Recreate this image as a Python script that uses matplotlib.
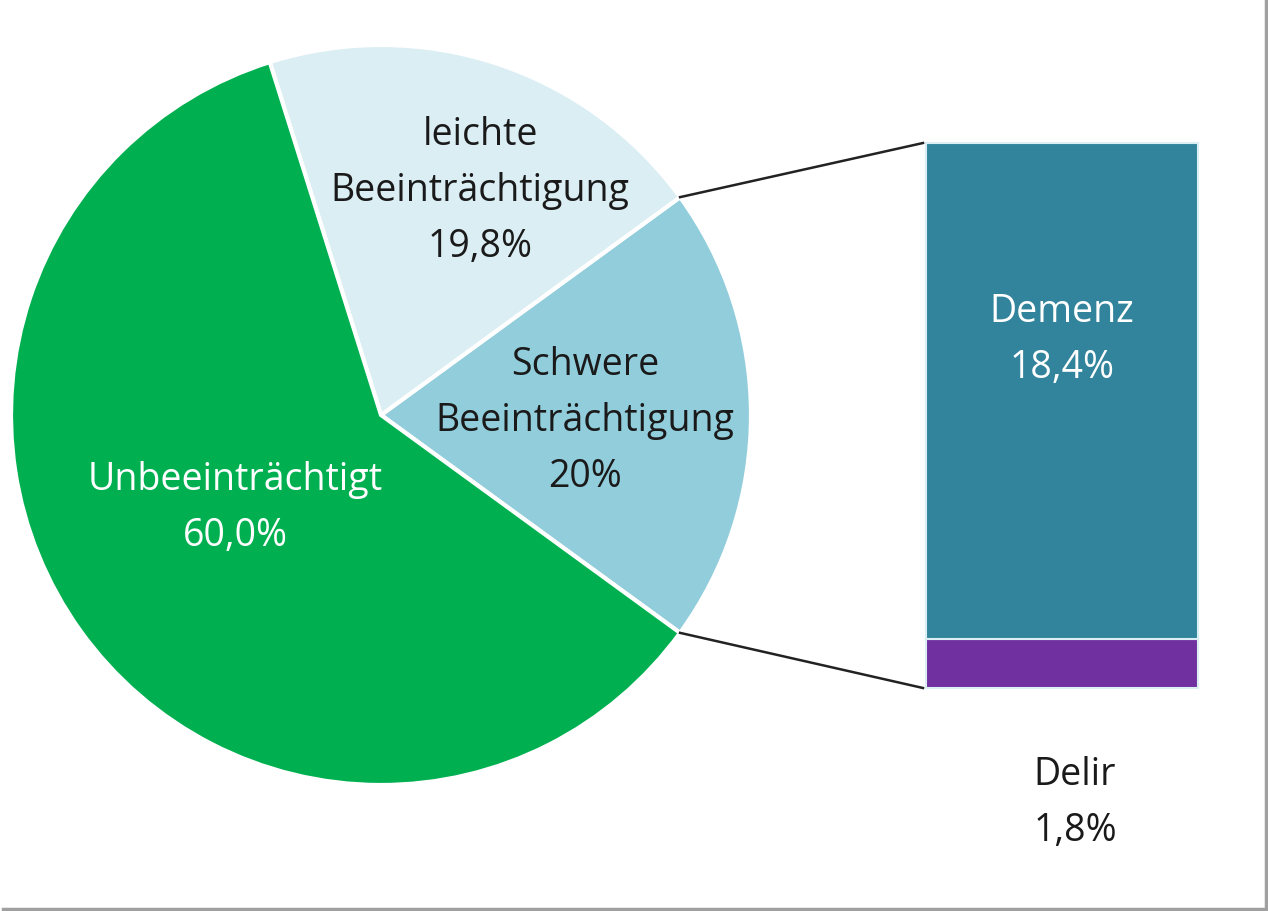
import matplotlib
matplotlib.use("Agg")
import matplotlib.pyplot as plt
import numpy as np
from matplotlib.lines import Line2D

# Data
pie_labels = ["Schwere\nBeeinträchtigung\n20%", "leichte\nBeeinträchtigung\n19,8%", "Unbeeinträchtigt\n60,0%"]
pie_values = [20.0, 19.8, 60.0]
pie_colors = ["#92CDDC", "#DAEEF3", "#00B050"]
pie_text_colors = ["#1a1a1a", "#1a1a1a", "white"]

bar_labels = ["Delir\n1,8%", "Demenz\n18,4%"]
bar_values = [1.8, 18.4]
bar_colors = ["#7030A0", "#31849B"]

plt.rcParams['font.family'] = ['Open Sans', 'DejaVu Sans']

W, H = 1268, 911
fig = plt.figure(figsize=(W / 100, H / 100), dpi=100)
ax = fig.add_axes([0, 0, 1, 1])

cx, cy, R = 381, 496, 370
frac0 = pie_values[0] / sum(pie_values)
start = -180 * frac0
wedges, _ = ax.pie(pie_values, colors=pie_colors, startangle=start, counterclock=True,
                   center=(cx, cy), radius=R, frame=True,
                   wedgeprops=dict(edgecolor="white", linewidth=3))
ax.set_xlim(0, W)
ax.set_ylim(0, H)
ax.set_aspect("equal")
ax.axis("off")

FS = 27
LS = 1.62

# pie labels
label_pos = [(585, 911 - 421), (480, 911 - 191), (235, 911 - 508)]
for (x, y), txt, c in zip(label_pos, pie_labels, pie_text_colors):
    ax.text(x, y, txt, ha="center", va="center", fontsize=FS, color=c, linespacing=LS)

# bar of pie
bx, bw = 1062, 272
bottom0 = 911 - 688
scale = (688 - 143) / sum(bar_values)
bottoms = np.concatenate([[0], np.cumsum(bar_values)[:-1]])
ax.bar([bx] * len(bar_values), np.array(bar_values) * scale, width=bw,
       bottom=bottom0 + bottoms * scale, color=bar_colors, edgecolor="#DAEEF3", linewidth=1.5)

# bar labels
ax.text(1062, 911 - 340, bar_labels[1], ha="center", va="center", fontsize=FS,
        color="white", linespacing=LS)
ax.text(1075, 911 - 803, bar_labels[0], ha="center", va="center", fontsize=FS,
        color="#1a1a1a", linespacing=LS)

# connector lines
ang_top = np.deg2rad(start + 360 * frac0)
ang_bot = np.deg2rad(start)
top_bar = bottom0 + sum(bar_values) * scale
ax.plot([cx + R * np.cos(ang_top), bx - bw / 2 - 3], [cy + R * np.sin(ang_top), top_bar],
        color="#222222", lw=1.8)
ax.plot([cx + R * np.cos(ang_bot), bx - bw / 2 - 3], [cy + R * np.sin(ang_bot), bottom0],
        color="#222222", lw=1.8)

# border shadow
fig.add_artist(Line2D([1265.5 / W, 1265.5 / W], [3 / H, 1], transform=fig.transFigure,
                      color="#A0A0A0", lw=2.5))
fig.add_artist(Line2D([3 / W, 1266.5 / W], [2.5 / H, 2.5 / H], transform=fig.transFigure,
                      color="#A0A0A0", lw=2.5))

fig.savefig("out.png", dpi=100, facecolor="white")
